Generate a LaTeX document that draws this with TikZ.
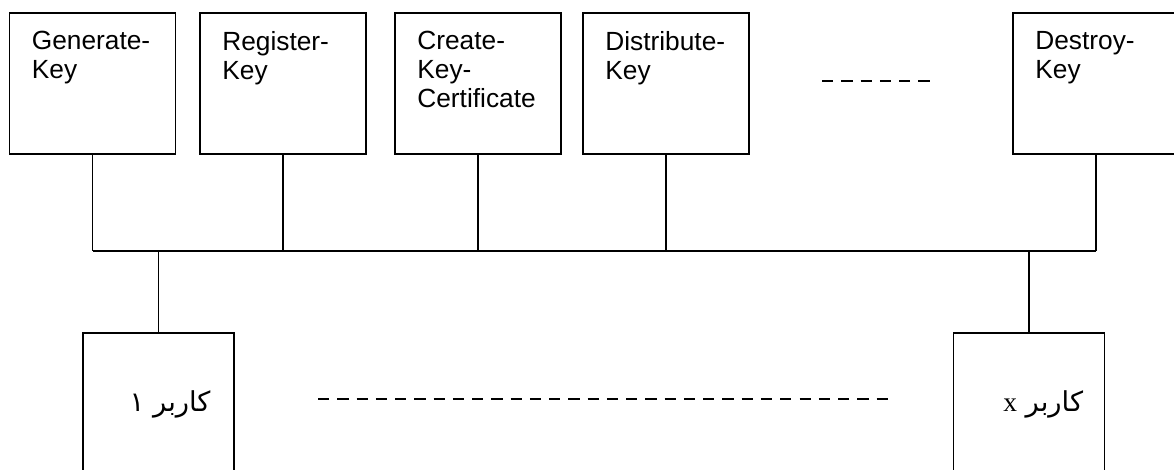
\documentclass[tikz,border=0pt]{standalone}
\usepackage{fontspec}
\setmainfont{Liberation Sans}
\newfontfamily\persianfont[Script=Arabic]{DejaVu Sans}
\newfontfamily\latinserif{Liberation Serif}
\TeXXeTstate=1
\usetikzlibrary{
  positioning,
  calc
}

\begin{document}
\begin{tikzpicture}[
    keybox/.style={draw, line width=1.3pt, minimum width=4.15cm,
                   minimum height=3.525cm, inner sep=0pt},
    keytext/.style={anchor=north west, align=left, inner sep=0pt,
                    font=\fontsize{18.7}{20.6}\selectfont,
                    xshift=0.575cm, yshift=-0.475cm},
    userbox/.style={draw, line width=1.2pt, minimum width=3.775cm,
                    minimum height=4cm, inner sep=0pt},
    usertext/.style={anchor=east, inner sep=0pt,
                     font=\persianfont\fontsize{19.5}{22}\selectfont},
    wire/.style={line width=1.2pt},
    gap/.style={line width=1.2pt, dash pattern=on 8pt off 5.7pt},
  ]

  \useasboundingbox (0,0) rectangle (29.35,-11.75);
  \clip (0,0) rectangle (29.35,-11.75);

  % Key operations
  \node[keybox] (gen)  at (2.3125,-2.0875) {};
  \node[keybox] (reg)  at (7.075,-2.0875) {};
  \node[keybox] (cert) at (11.95,-2.0875) {};
  \node[keybox] (dist) at (16.65,-2.0875) {};
  \node[keybox] (dest) at (27.4,-2.0875) {};

  \node[keytext] (genl)  at (gen.north west)  {Generate-\\Key};
  \node[keytext] (regl)  at (reg.north west)  {Register-\\Key};
  \node[keytext] (certl) at (cert.north west) {Create-\\Key-\\Certificate};
  \node[keytext] (distl) at (dist.north west) {Distribute-\\Key};
  \node[keytext] (destl) at (dest.north west) {Destroy-\\Key};

  \draw[gap] (20.55,-2.025) -- (23.375,-2.025);

  % Bus
  \coordinate (busl) at ($(gen.south)+(0,-2.4)$);
  \coordinate (busr) at (busl -| dest.south);
  \draw[wire] (busl) -- (busr);
  \foreach \b in {gen,reg,cert,dist,dest} {
    \draw[wire] (\b.south) -- (\b.south |- busl);
  }

  % Users
  \node[userbox] (usr1) at (3.9625,-10.325) {};
  \node[userbox] (usrx) at (25.725,-10.325) {};
  \draw[wire] (usr1.north) -- (usr1.north |- busl);
  \draw[wire] (usrx.north) -- (usrx.north |- busl);

  \node[usertext] (usr1l) at ([xshift=-0.6cm, yshift=-1.8cm]usr1.north east)
    {\beginR کاربر ۱\endR};
  \node[usertext] (usrxl) at ([xshift=-0.55cm, yshift=-1.8cm]usrx.north east)
    {\beginR کاربر {\latinserif x}\endR};

  \draw[gap] (7.95,-9.975) -- (22.275,-9.975);

\end{tikzpicture}
\end{document}
